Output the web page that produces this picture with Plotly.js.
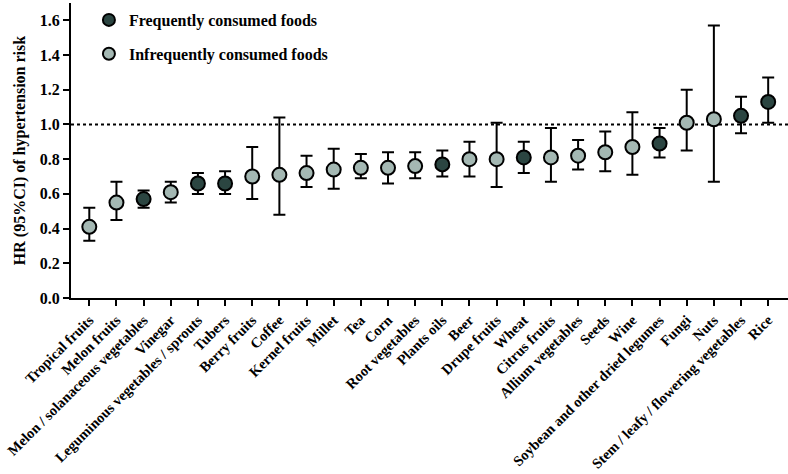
<!DOCTYPE html>
<html>
<head>
<meta charset="utf-8">
<script src="https://cdn.plot.ly/plotly-3.0.1.min.js"></script>
<style>html,body{margin:0;padding:0;background:#fff;}#chart{width:788px;height:474px;}</style>
</head>
<body>
<div id="chart"></div>
<script>
const categories = ["Tropical fruits","Melon fruits","Melon / solanaceous vegetables","Vinegar","Leguminous vegetables / sprouts","Tubers","Berry fruits","Coffee","Kernel fruits","Millet","Tea","Corn","Root vegetables","Plants oils","Beer","Drupe fruits","Wheat","Citrus fruits","Allium vegetables","Seeds","Wine","Soybean and other dried legumes","Fungi","Nuts","Stem / leafy / flowering vegetables","Rice"];
const hr    = [0.41,0.55,0.57,0.61,0.66,0.66,0.70,0.71,0.72,0.74,0.75,0.75,0.76,0.77,0.80,0.80,0.81,0.81,0.82,0.84,0.87,0.89,1.01,1.03,1.05,1.13];
const lower = [0.33,0.45,0.52,0.55,0.60,0.60,0.57,0.48,0.64,0.63,0.69,0.66,0.69,0.70,0.70,0.64,0.72,0.67,0.74,0.73,0.71,0.81,0.85,0.67,0.95,1.01];
const upper = [0.52,0.67,0.62,0.67,0.72,0.73,0.87,1.04,0.82,0.86,0.83,0.84,0.84,0.85,0.90,1.01,0.90,0.98,0.91,0.96,1.07,0.98,1.20,1.57,1.16,1.27];
// 1 = frequently consumed, 0 = infrequently consumed
const frequent = [0,0,1,0,1,1,0,0,0,0,0,0,0,1,0,0,1,0,0,0,0,1,0,0,1,1];
const seriesNames = ["Frequently consumed foods","Infrequently consumed foods"];
const seriesColors = ["#2b4541","#a4b8b3"];

function makeTrace(flag, idx){
  const xs=[], ys=[], up=[], dn=[];
  categories.forEach((c,i)=>{
    if(frequent[i]===flag){ xs.push(c); ys.push(hr[i]); up.push(upper[i]-hr[i]); dn.push(hr[i]-lower[i]); }
  });
  return {
    type:'scatter', mode:'markers', x:xs, y:ys, name:seriesNames[idx],
    legendgroup:'g'+idx,
    marker:{size:14, color:seriesColors[idx], line:{color:'#000', width:2}},
    error_y:{type:'data', symmetric:false, array:up, arrayminus:dn, color:'#000', thickness:2, width:6}
  };
}
const traces=[makeTrace(1,0), makeTrace(0,1)];

const font = "'Liberation Serif', 'Times New Roman', serif";
const layout = {
  width:788, height:474,
  margin:{l:71, r:0, t:3, b:176},
  paper_bgcolor:'#fff', plot_bgcolor:'#fff',
  font:{family:font, color:'#000', size:15, weight:'bold'},
  showlegend:true,
  legend:{x:0.025, y:1.0, xanchor:'left', yanchor:'top', bgcolor:'rgba(0,0,0,0)',
    font:{family:font, size:16, color:'#000', weight:'bold'}, tracegroupgap:10, traceorder:'grouped', itemsizing:'constant'},
  xaxis:{type:'category', categoryorder:'array', categoryarray:categories,
    range:[-0.674, 25.73], showline:true, linecolor:'#000', linewidth:2,
    ticks:'outside', ticklen:6, tickwidth:2, tickcolor:'#000', tickangle:-45,
    showgrid:false, zeroline:false,
    tickfont:{family:font, size:14.5, color:'#000', weight:'bold'}},
  yaxis:{range:[0,1.7], dtick:0.2, tick0:0, tickformat:'.1f',
    showline:true, linecolor:'#000', linewidth:2,
    ticks:'outside', ticklen:6, tickwidth:2, tickcolor:'#000',
    showgrid:false, zeroline:false,
    tickfont:{family:font, size:16, color:'#000', weight:'bold'},
    title:{text:'HR (95%CI) of hypertension risk', standoff:10,
      font:{family:font, size:16, color:'#000', weight:'bold'}}},
  shapes:[{type:'line', xref:'paper', x0:0, x1:1, yref:'y', y0:1, y1:1, layer:'below',
    line:{color:'#000', width:2, dash:'dot'}}]
};
Plotly.newPlot('chart', traces, layout, {displayModeBar:false, staticPlot:true});
</script>
</body>
</html>
